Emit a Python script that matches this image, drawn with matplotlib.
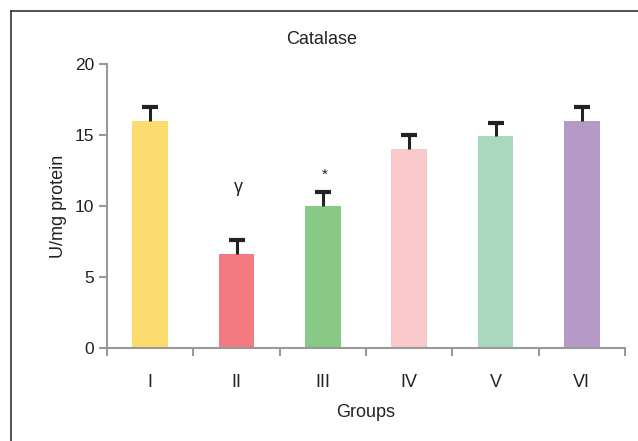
import matplotlib
matplotlib.use("Agg")
import matplotlib.pyplot as plt
import numpy as np
from matplotlib.lines import Line2D

groups = ["I", "II", "III", "IV", "V", "VI"]
values = [16.0, 6.6, 10.0, 14.0, 14.9, 16.0]
errors = [1.0, 1.0, 1.0, 1.0, 0.95, 1.0]
colors = ["#FCDC6E", "#F27A80", "#89C986", "#F9C8CB", "#A9D8BD", "#B59AC8"]
marks = {1: ("γ", 11.3), 2: ("*", 12.2)}

plt.rcParams['font.family'] = ['Liberation Sans', 'DejaVu Sans']

fig = plt.figure(figsize=(6.38, 4.41), dpi=100)
# outer frame (top and left lines)
fig.add_artist(Line2D([11/638, 11/638], [0, 1 - 11/441], transform=fig.transFigure, color="#333333", lw=1.2))
fig.add_artist(Line2D([11/638, 1], [1 - 11/441, 1 - 11/441], transform=fig.transFigure, color="#333333", lw=1.2))

ax = fig.add_axes([107/638, 1 - 348/441, (625 - 107)/638, (348 - 64)/441])
x = np.arange(len(groups))
ax.bar(x, values, width=0.41, color=colors, zorder=2)
tops = np.array(values) + np.array(errors)
ax.vlines(x, values, tops, color="#222222", lw=2.2, zorder=3)
ax.plot(x, tops, ls="none", marker="_", ms=11, mew=3, color="#222222", zorder=3)
for i, (s, yv) in marks.items():
    ax.text(x[i] + 0.02, yv, s, ha="center", va="center", fontsize=13 if s == "γ" else 11, color="#222222")

ax.set_xlim(-0.5, len(groups) - 0.5)
ax.set_ylim(0, 20)
ax.set_yticks([0, 5, 10, 15, 20])
ax.set_xticks(x)
ax.set_xticklabels(groups)
ax.set_xticks(np.arange(-0.5, len(groups)), minor=True)
ax.tick_params(axis="x", which="major", length=0, pad=19, labelsize=13, colors="#222222")
ax.tick_params(axis="x", which="minor", length=6, width=1.5, color="#999999", direction="out")
ax.tick_params(axis="y", length=6, width=1.5, color="#999999", labelsize=12.5, labelcolor="#222222", pad=3)
for sp in ["top", "right"]:
    ax.spines[sp].set_visible(False)
for sp in ["left", "bottom"]:
    ax.spines[sp].set_color("#999999")
    ax.spines[sp].set_linewidth(1.5)
ax.set_ylabel("U/mg protein", fontsize=13, color="#222222", labelpad=6)
ax.set_xlabel("Groups", fontsize=13, color="#222222", labelpad=9)
fig.text(322/638, 1 - 40/441, "Catalase", ha="center", va="center", fontsize=13, color="#222222")

fig.savefig("out.png", dpi=100)
